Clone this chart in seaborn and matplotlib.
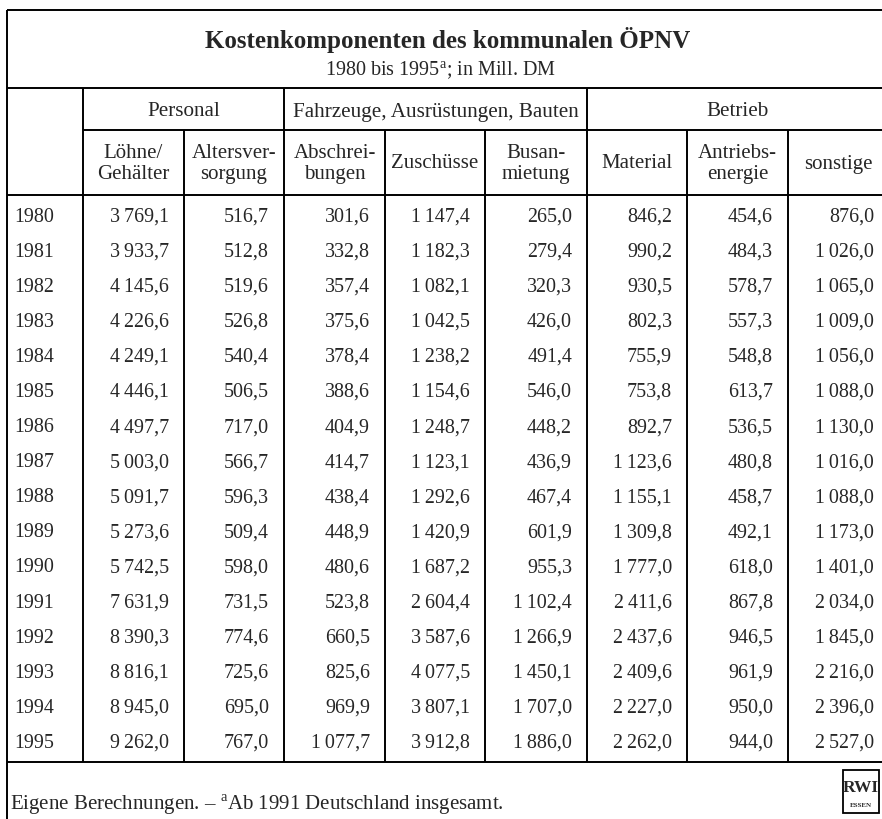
import matplotlib
matplotlib.use("Agg")
import matplotlib.pyplot as plt
import seaborn as sns
import pandas as pd
from matplotlib.patches import Rectangle

# data (Mill. DM)
years = [1980, 1981, 1982, 1983, 1984, 1985, 1986, 1987,
         1988, 1989, 1990, 1991, 1992, 1993, 1994, 1995]
loehne = [3769.1, 3933.7, 4145.6, 4226.6, 4249.1, 4446.1, 4497.7, 5003.0,
          5091.7, 5273.6, 5742.5, 7631.9, 8390.3, 8816.1, 8945.0, 9262.0]
alters = [516.7, 512.8, 519.6, 526.8, 540.4, 506.5, 717.0, 566.7,
          596.3, 509.4, 598.0, 731.5, 774.6, 725.6, 695.0, 767.0]
abschr = [301.6, 332.8, 357.4, 375.6, 378.4, 388.6, 404.9, 414.7,
          438.4, 448.9, 480.6, 523.8, 660.5, 825.6, 969.9, 1077.7]
zuschuesse = [1147.4, 1182.3, 1082.1, 1042.5, 1238.2, 1154.6, 1248.7, 1123.1,
              1292.6, 1420.9, 1687.2, 2604.4, 3587.6, 4077.5, 3807.1, 3912.8]
busmiete = [265.0, 279.4, 320.3, 426.0, 491.4, 546.0, 448.2, 436.9,
            467.4, 601.9, 955.3, 1102.4, 1266.9, 1450.1, 1707.0, 1886.0]
material = [846.2, 990.2, 930.5, 802.3, 755.9, 753.8, 892.7, 1123.6,
            1155.1, 1309.8, 1777.0, 2411.6, 2437.6, 2409.6, 2227.0, 2262.0]
antrieb = [454.6, 484.3, 578.7, 557.3, 548.8, 613.7, 536.5, 480.8,
           458.7, 492.1, 618.0, 867.8, 946.5, 961.9, 950.0, 944.0]
sonstige = [876.0, 1026.0, 1065.0, 1009.0, 1056.0, 1088.0, 1130.0, 1016.0,
            1088.0, 1173.0, 1401.0, 2034.0, 1845.0, 2216.0, 2396.0, 2527.0]

groups = ["Personal", "Fahrzeuge, Ausrüstungen, Bauten", "Betrieb"]
group_span = [(1, 3), (3, 6), (6, 9)]
sub_headers = ["Löhne/\nGehälter", "Altersver-\nsorgung", "Abschrei-\nbungen", "Zuschüsse",
               "Busan-\nmietung", "Material", "Antriebs-\nenergie", "sonstige"]

df = pd.DataFrame({"Jahr": years, "loehne": loehne, "alters": alters, "abschr": abschr,
                   "zuschuesse": zuschuesse, "busmiete": busmiete, "material": material,
                   "antrieb": antrieb, "sonstige": sonstige})

sns.set_theme(style="white")
plt.rcParams["font.family"] = ["Liberation Serif", "DejaVu Serif"]
plt.rcParams["mathtext.fontset"] = "custom"
plt.rcParams["mathtext.rm"] = "Liberation Serif"


def fmt(v):
    s = f"{v:,.1f}"
    return s.replace(",", "\u2009").replace(".", ",")


fig = plt.figure(figsize=(8.82, 8.2), dpi=100)
ax = fig.add_axes([0, 0, 1, 1])
ax.set_xlim(0, 882)
ax.set_ylim(820, 0)
ax.axis("off")

edges = [7, 83, 184, 284, 385, 485, 587, 687, 788, 889]
y_top, y_sub, y_grp, y_head, y_bot = 11, 89, 131, 196, 763
row0, step = 217, 35.1
lw = 1.4
k = "black"

# frame lines
ax.hlines([y_top, y_sub, y_head, y_bot], edges[0], 882, color=k, lw=lw)
ax.hlines(y_grp, edges[1], 882, color=k, lw=lw)
ax.vlines(edges[0], y_top, 820, color=k, lw=lw)
for i, x in enumerate(edges[1:-1], start=1):
    top = y_sub if i in (1, 3, 6) else y_grp
    ax.vlines(x, top, y_bot, color=k, lw=lw)

# title
ax.text(448, 40, "Kostenkomponenten des kommunalen ÖPNV", ha="center", va="center",
        fontsize=18, fontweight="bold")
ax.text(440, 71, r"1980 bis 1995$^{\mathrm{a}}$; in Mill. DM", ha="center", va="center",
        fontsize=14.5)

# headers
for g, (a, b) in zip(groups, group_span):
    right = min(edges[b], 889)
    ax.text((edges[a] + right) / 2, 112, g, ha="center", va="center", fontsize=15.2)
for i, h in enumerate(sub_headers):
    ax.text((edges[i + 1] + edges[i + 2]) / 2, 164, h, ha="center", va="center",
            fontsize=15, linespacing=1.12)

# body
cols = ["loehne", "alters", "abschr", "zuschuesse", "busmiete", "material", "antrieb", "sonstige"]
for r, row in df.iterrows():
    y = row0 + r * step
    ax.text(14, y, str(int(row["Jahr"])), ha="left", va="center", fontsize=14.4)
    for j, c in enumerate(cols):
        ax.text(edges[j + 2] - 15, y, fmt(row[c]), ha="right", va="center", fontsize=14.4)

# footer
ax.text(10, 805, r"Eigene Berechnungen. – $^{\mathrm{a}}$Ab 1991 Deutschland insgesamt.",
        ha="left", va="center", fontsize=15)

# RWI logo
ax.add_patch(Rectangle((843, 771), 36, 43, fill=False, ec=k, lw=1.3))
ax.text(861, 788, "RWI", ha="center", va="center", fontsize=12.5, fontweight="bold")
ax.text(861, 806, "ESSEN", ha="center", va="center", fontsize=5, fontweight="bold")

fig.savefig("out.png", dpi=100)
